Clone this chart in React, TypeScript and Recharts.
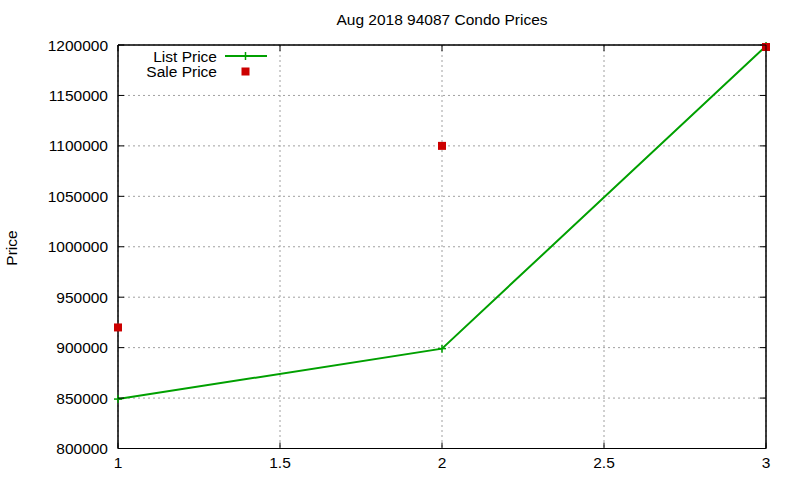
import React from 'react';
import { LineChart, Line, XAxis, YAxis, CartesianGrid, Customized, ReferenceArea } from 'recharts';

const positions = [1, 2, 3];
const listPrices = [849000, 899000, 1199000];
const salePrices = [920000, 1100000, 1198000];
const xTicks = [1, 1.5, 2, 2.5, 3];
const yTicks = [800000, 850000, 900000, 950000, 1000000, 1050000, 1100000, 1150000, 1200000];

const TITLE = 'Aug 2018 94087 Condo Prices';
const Y_LABEL = 'Price';
const LIST_NAME = 'List Price';
const SALE_NAME = 'Sale Price';

const data = positions.map((p, i) => ({ x: p, list: listPrices[i], sale: salePrices[i] }));

const FONT = '"Liberation Sans", Arial, Helvetica, sans-serif';
const FS = 15.5;
const GREEN = '#00a000';
const RED = '#cc0000';
const TICK_LEN = 6;

const LeftTick = (props: any) => {
  const { x, y, payload } = props;
  const ax = x + 10;
  return (
    <g>
      <line x1={ax} y1={y} x2={ax + TICK_LEN} y2={y} stroke="#000" strokeWidth={1} />
      <text x={x} y={y} dy="0.355em" textAnchor="end" fontFamily={FONT} fontSize={FS} fill="#000">
        {payload.value}
      </text>
    </g>
  );
};

const RightTick = (props: any) => {
  const { x, y } = props;
  return <line x1={x} y1={y} x2={x - TICK_LEN} y2={y} stroke="#000" strokeWidth={1} />;
};

const BottomTick = (props: any) => {
  const { x, y, payload } = props;
  const ay = y - 8;
  return (
    <g>
      <line x1={x} y1={ay} x2={x} y2={ay - TICK_LEN} stroke="#000" strokeWidth={1} />
      <text x={x} y={y} dy="0.71em" textAnchor="middle" fontFamily={FONT} fontSize={FS} fill="#000">
        {payload.value}
      </text>
    </g>
  );
};

const TopTick = (props: any) => {
  const { x, y } = props;
  return <line x1={x} y1={y} x2={x} y2={y + TICK_LEN} stroke="#000" strokeWidth={1} />;
};

const PlusDot = (props: any) => {
  const { cx, cy, index } = props;
  if (cx == null || cy == null) return <g key={index} />;
  return (
    <g key={index}>
      <line x1={cx - 4} y1={cy} x2={cx + 4} y2={cy} stroke={GREEN} strokeWidth={1.5} />
      <line x1={cx} y1={cy - 4} x2={cx} y2={cy + 4} stroke={GREEN} strokeWidth={1.5} />
    </g>
  );
};

const SquareDot = (props: any) => {
  const { cx, cy, index } = props;
  if (cx == null || cy == null) return <g key={index} />;
  return <rect key={index} x={cx - 4} y={cy - 4} width={8} height={8} fill={RED} />;
};

const Decorations = () => (
  <g>
    <text x={442} y={25} textAnchor="middle" fontFamily={FONT} fontSize={FS} fill="#000">
      {TITLE}
    </text>
    <text
      x={0}
      y={0}
      transform="translate(17,248) rotate(-90)"
      textAnchor="middle"
      fontFamily={FONT}
      fontSize={FS}
      fill="#000"
    >
      {Y_LABEL}
    </text>
    <text x={217} y={56} dy="0.355em" textAnchor="end" fontFamily={FONT} fontSize={FS} fill="#000">
      {LIST_NAME}
    </text>
    <line x1={225} y1={56} x2={267} y2={56} stroke={GREEN} strokeWidth={2} />
    <line x1={241.5} y1={56} x2={249.5} y2={56} stroke={GREEN} strokeWidth={1.5} />
    <line x1={245.5} y1={52} x2={245.5} y2={60} stroke={GREEN} strokeWidth={1.5} />
    <text x={217} y={71.5} dy="0.355em" textAnchor="end" fontFamily={FONT} fontSize={FS} fill="#000">
      {SALE_NAME}
    </text>
    <rect x={241.5} y={67.5} width={8} height={8} fill={RED} />
  </g>
);

export default function App() {
  return (
    <div style={{ position: 'absolute', left: 0, top: 0, width: 800, height: 480, background: '#fff' }}>
      <LineChart
        width={800}
        height={480}
        data={data}
        margin={{ top: 44, right: 33, bottom: 1.5, left: 58 }}
      >
        <CartesianGrid
          xAxisId="bottom"
          yAxisId="left"
          stroke="#a0a0a0"
          strokeDasharray="2 3"
          strokeWidth={1}
        />
        <XAxis
          xAxisId="bottom"
          dataKey="x"
          type="number"
          domain={[1, 3]}
          ticks={xTicks}
          height={30}
          tickSize={0}
          tickMargin={8}
          tickLine={false}
          axisLine={{ stroke: '#000', strokeWidth: 1 }}
          tick={<BottomTick />}
          interval={0}
        />
        <XAxis
          xAxisId="top"
          orientation="top"
          dataKey="x"
          type="number"
          domain={[1, 3]}
          ticks={xTicks}
          height={1}
          tickSize={0}
          tickMargin={0}
          tickLine={false}
          axisLine={{ stroke: '#000', strokeWidth: 1 }}
          tick={<TopTick />}
          interval={0}
        />
        <YAxis
          yAxisId="left"
          type="number"
          domain={[800000, 1200000]}
          ticks={yTicks}
          width={60}
          tickSize={0}
          tickMargin={10}
          tickLine={false}
          axisLine={{ stroke: '#000', strokeWidth: 1 }}
          tick={<LeftTick />}
          interval={0}
        />
        <YAxis
          yAxisId="right"
          orientation="right"
          type="number"
          domain={[800000, 1200000]}
          ticks={yTicks}
          width={1}
          tickSize={0}
          tickMargin={0}
          tickLine={false}
          axisLine={{ stroke: '#000', strokeWidth: 1 }}
          tick={<RightTick />}
          interval={0}
        />
        <ReferenceArea
          xAxisId="bottom"
          yAxisId="left"
          x1={1}
          x2={3}
          y1={800000}
          y2={1200000}
          fill="none"
          fillOpacity={0}
          stroke="#000"
          strokeWidth={1}
          ifOverflow="visible"
        />
        <Line
          xAxisId="top"
          yAxisId="right"
          dataKey="list"
          stroke="none"
          dot={false}
          activeDot={false}
          legendType="none"
          isAnimationActive={false}
          type="linear"
        />
        <Line
          xAxisId="bottom"
          yAxisId="left"
          dataKey="list"
          stroke={GREEN}
          strokeWidth={2}
          dot={<PlusDot />}
          activeDot={false}
          isAnimationActive={false}
          type="linear"
        />
        <Line
          xAxisId="bottom"
          yAxisId="left"
          dataKey="sale"
          stroke="none"
          dot={<SquareDot />}
          activeDot={false}
          isAnimationActive={false}
          type="linear"
        />
        <Customized component={Decorations} />
      </LineChart>
    </div>
  );
}
